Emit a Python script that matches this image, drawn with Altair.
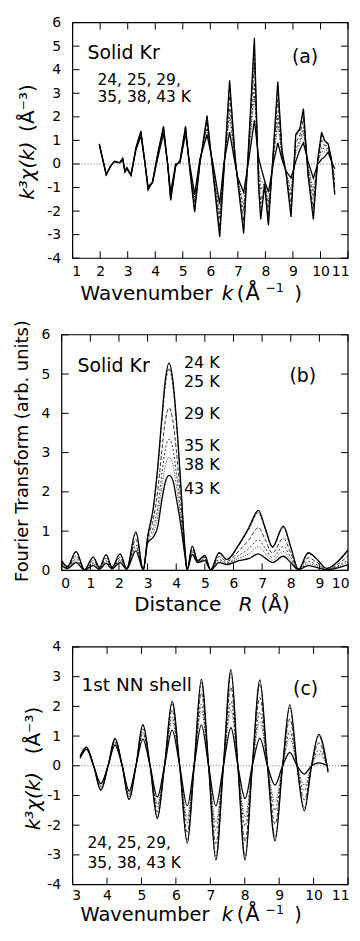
import altair as alt
import pandas as pd

FONT = "DejaVu Sans"

# ---------------- Panel (a): k^3 chi(k), raw data ----------------
ka = [1.97, 2.22, 2.4, 2.52, 2.70, 2.82, 2.9, 2.97, 3.12, 3.3, 3.48, 3.62, 3.74, 3.9, 4.1, 4.3, 4.45, 4.56,
      4.74, 4.9, 5.1, 5.25, 5.43, 5.62, 5.88, 6.1, 6.34, 6.5, 6.70, 6.9, 7.0, 7.21, 7.4, 7.6, 7.75, 7.83,
      7.97, 8.11, 8.3, 8.45, 8.6, 8.75, 8.93, 9.1, 9.25, 9.38, 9.55, 9.74, 9.9, 10.04, 10.15, 10.28, 10.4, 10.52]
a24 = [0.85, -0.45, -0.05, 0.12, 0.05, 0.25, -0.3, -0.15, -0.45, 0.7, 1.4, 0.1, -1.1, -0.75, 0.5, 1.6, 0.0, -1.55,
       -0.1, 0.15, 1.6, -0.2, -2.05, 0.0, 2.05, -0.4, -3.1, -0.2, 3.55, 0.3, -0.8, -2.95, 1.0, 5.35, -0.9, -2.35,
       -0.9, -2.6, 0.8, 3.5, 0.6, -0.4, -2.25, 1.25, 1.5, 2.35, -0.5, -2.35, 0.2, 1.35, 1.0, 0.85, 0.2, -1.3]
a25 = [0.85, -0.45, -0.05, 0.12, 0.05, 0.24, -0.3, -0.15, -0.45, 0.69, 1.39, 0.1, -1.09, -0.75, 0.49, 1.58, 0.0, -1.53,
       -0.09, 0.14, 1.58, -0.19, -2.0, 0.01, 1.99, -0.37, -3.0, -0.18, 3.4, 0.28, -0.79, -2.83, 0.94, 5.1, -0.82, -2.19,
       -0.89, -2.5, 0.75, 3.32, 0.57, -0.39, -2.13, 1.17, 1.44, 2.25, -0.46, -2.23, 0.19, 1.27, 0.95, 0.83, 0.19, -1.22]
a29 = [0.84, -0.45, -0.05, 0.11, 0.05, 0.22, -0.31, -0.16, -0.46, 0.67, 1.34, 0.1, -1.06, -0.77, 0.44, 1.51, 0.0, -1.45,
       -0.07, 0.12, 1.51, -0.14, -1.83, 0.06, 1.81, -0.28, -2.68, -0.11, 2.89, 0.21, -0.74, -2.43, 0.76, 4.3, -0.54, -1.68,
       -0.84, -2.18, 0.59, 2.72, 0.48, -0.37, -1.76, 0.9, 1.23, 1.92, -0.32, -1.83, 0.14, 1.01, 0.79, 0.75, 0.17, -0.97]
a35 = [0.82, -0.45, -0.05, 0.11, 0.05, 0.2, -0.33, -0.18, -0.48, 0.65, 1.29, 0.1, -1.02, -0.78, 0.39, 1.44, 0.0, -1.36,
       -0.05, 0.1, 1.44, -0.09, -1.64, 0.11, 1.61, -0.18, -2.33, -0.04, 2.34, 0.14, -0.69, -1.99, 0.56, 3.43, -0.24, -1.11,
       -0.79, -1.83, 0.42, 2.07, 0.38, -0.35, -1.34, 0.62, 1.0, 1.55, -0.17, -1.39, 0.09, 0.72, 0.62, 0.66, 0.15, -0.7]
a38 = [0.82, -0.45, -0.05, 0.11, 0.05, 0.18, -0.34, -0.19, -0.49, 0.63, 1.26, 0.1, -1.0, -0.79, 0.36, 1.39, 0.0, -1.31,
       -0.03, 0.08, 1.39, -0.06, -1.53, 0.14, 1.49, -0.12, -2.12, 0.01, 2.01, 0.09, -0.66, -1.73, 0.44, 2.9, -0.06, -0.78,
       -0.76, -1.62, 0.31, 1.68, 0.32, -0.33, -1.1, 0.45, 0.87, 1.34, -0.08, -1.13, 0.06, 0.55, 0.51, 0.61, 0.13, -0.53]
a43 = [0.8, -0.45, -0.05, 0.1, 0.05, 0.15, -0.35, -0.2, -0.5, 0.6, 1.2, 0.1, -0.95, -0.8, 0.3, 1.3, 0.0, -1.2,
       0.0, 0.05, 1.3, 0.0, -1.3, 0.2, 1.25, 0.0, -1.7, 0.1, 1.35, 0.0, -0.6, -1.2, 0.2, 1.85, 0.3, -0.1,
       -0.7, -1.2, 0.1, 0.9, 0.2, -0.3, -0.6, 0.1, 0.6, 0.9, 0.1, -0.6, 0.0, 0.2, 0.3, 0.5, 0.1, -0.2]

# ---------------- Panel (b): Fourier transform ----------------
rb = [0, 0.2, 0.5, 0.8, 1.1, 1.32, 1.55, 1.76, 2.04, 2.27, 2.59, 2.85, 3.0, 3.2, 3.35, 3.5, 3.62, 3.75, 3.88, 4.0,
      4.15, 4.3, 4.38, 4.56, 4.75, 5.0, 5.2, 5.5, 5.77, 6.18, 6.53, 6.87, 7.1, 7.36, 7.74, 8.0, 8.27, 8.61, 8.9,
      9.25, 9.6, 10.0]
b24 = [0.25, 0.1, 0.48, 0.02, 0.34, 0.08, 0.4, 0.08, 0.42, 0.05, 0.98, 0.02, 0.85, 1.6, 2.6, 3.9, 4.85, 5.28, 4.85, 3.9,
       2.3, 0.6, 0.02, 0.62, 0.25, 0.38, 0.02, 0.45, 0.28, 0.65, 1.08, 1.53, 1.1, 0.6, 1.13, 0.6, 0.03, 0.45, 0.3,
       0.05, 0.2, 0.52]
b25 = [0.24, 0.1, 0.47, 0.02, 0.33, 0.08, 0.39, 0.08, 0.41, 0.05, 0.96, 0.02, 0.84, 1.56, 2.53, 3.8, 4.72, 5.14, 4.72, 3.8,
       2.25, 0.59, 0.02, 0.61, 0.25, 0.37, 0.02, 0.44, 0.27, 0.63, 1.04, 1.47, 1.06, 0.58, 1.09, 0.58, 0.03, 0.43, 0.29,
       0.05, 0.19, 0.5]
b29 = [0.2, 0.08, 0.37, 0.02, 0.25, 0.06, 0.31, 0.06, 0.33, 0.04, 0.79, 0.02, 0.79, 1.3, 2.0, 3.06, 3.81, 4.14, 3.83, 3.08,
       1.86, 0.52, 0.02, 0.53, 0.23, 0.33, 0.02, 0.35, 0.23, 0.49, 0.77, 1.09, 0.79, 0.44, 0.82, 0.44, 0.03, 0.32, 0.21,
       0.03, 0.14, 0.37]
b35 = [0.16, 0.07, 0.29, 0.01, 0.19, 0.05, 0.25, 0.05, 0.27, 0.04, 0.65, 0.02, 0.75, 1.09, 1.58, 2.47, 3.08, 3.34, 3.12, 2.5,
       1.55, 0.46, 0.02, 0.47, 0.22, 0.29, 0.01, 0.28, 0.19, 0.38, 0.55, 0.78, 0.57, 0.33, 0.61, 0.33, 0.02, 0.23, 0.15,
       0.02, 0.1, 0.27]
b38 = [0.14, 0.06, 0.24, 0.01, 0.16, 0.04, 0.22, 0.05, 0.24, 0.03, 0.58, 0.02, 0.72, 0.97, 1.34, 2.14, 2.67, 2.88, 2.71, 2.18,
       1.38, 0.43, 0.02, 0.44, 0.21, 0.27, 0.01, 0.24, 0.17, 0.31, 0.42, 0.6, 0.44, 0.26, 0.48, 0.26, 0.02, 0.17, 0.12,
       0.02, 0.08, 0.21]
b43 = [0.12, 0.05, 0.2, 0.01, 0.12, 0.03, 0.18, 0.04, 0.2, 0.03, 0.5, 0.02, 0.7, 0.85, 1.1, 1.8, 2.25, 2.42, 2.3, 1.85,
       1.2, 0.4, 0.02, 0.4, 0.2, 0.25, 0.01, 0.2, 0.15, 0.25, 0.3, 0.42, 0.32, 0.2, 0.36, 0.2, 0.02, 0.12, 0.08,
       0.01, 0.06, 0.15]

# ---------------- Panel (c): 1st NN shell back-transform ----------------
kc = [3.22, 3.4, 3.61, 3.82, 4.03, 4.23, 4.44, 4.64, 4.84, 5.04, 5.25, 5.46, 5.67, 5.89, 6.11, 6.33, 6.53, 6.74,
      6.95, 7.16, 7.38, 7.6, 7.8, 8.01, 8.22, 8.44, 8.66, 8.88, 9.1, 9.31, 9.52, 9.73, 9.94, 10.15, 10.42]
c24 = [0.33, 0.63, 0, -0.83, 0, 0.92, 0, -1.14, 0, 1.39, 0, -1.78, 0, 2.17, 0, -2.61, 0, 2.91,
       0, -3.17, 0, 3.24, 0, -3.17, 0, 2.89, 0, -2.53, 0, 2.06, 0, -1.52, 0, 1.06, -0.22]
c25 = [0.33, 0.62, 0, -0.81, 0, 0.9, 0, -1.12, 0, 1.36, 0, -1.73, 0, 2.1, 0, -2.52, 0, 2.8,
       0, -3.04, 0, 3.1, 0, -3.03, 0, 2.75, 0, -2.4, 0, 1.95, 0, -1.43, 0, 0.99, -0.2]
c29 = [0.31, 0.61, 0, -0.76, 0, 0.85, 0, -1.05, 0, 1.24, 0, -1.56, 0, 1.88, 0, -2.23, 0, 2.45,
       0, -2.62, 0, 2.65, 0, -2.55, 0, 2.3, 0, -1.97, 0, 1.58, 0, -1.15, 0, 0.77, -0.15]
c35 = [0.29, 0.59, 0, -0.7, 0, 0.8, 0, -0.98, 0, 1.12, 0, -1.38, 0, 1.64, 0, -1.92, 0, 2.07,
       0, -2.17, 0, 2.16, 0, -2.03, 0, 1.81, 0, -1.5, 0, 1.17, 0, -0.84, 0, 0.53, -0.1]
c38 = [0.27, 0.57, 0, -0.67, 0, 0.77, 0, -0.94, 0, 1.05, 0, -1.27, 0, 1.49, 0, -1.73, 0, 1.84,
       0, -1.9, 0, 1.87, 0, -1.72, 0, 1.51, 0, -1.21, 0, 0.93, 0, -0.65, 0, 0.39, -0.07]
c43 = [0.25, 0.55, 0, -0.6, 0, 0.7, 0, -0.85, 0, 0.9, 0, -1.05, 0, 1.2, 0, -1.35, 0, 1.38,
       0, -1.35, 0, 1.28, 0, -1.1, 0, 0.92, 0, -0.65, 0, 0.45, 0, -0.28, 0, 0.1, 0.0]

temps = ["24 K", "25 K", "29 K", "35 K", "38 K", "43 K"]
# line styles per temperature: (dash pattern or None, width)
styles = [(None, 1.3), ([3, 1.5], 0.8), ([4, 2], 0.8), ([2, 2], 0.8), ([1, 1.5], 0.8), (None, 1.3)]

ONE = pd.DataFrame({"a": [0]})
W = 288          # every panel group is this wide; (a) and (c) frames start 11 px in
LEXT = 53        # common left extent (y-titles / labels)


def text(s, x, y, size, align="left", baseline="alphabetic", angle=0, italic=False):
    kw = dict(align=align, baseline=baseline, font=FONT, fontSize=size, color="black")
    if angle:
        kw["angle"] = angle
    if italic:
        kw["fontStyle"] = "italic"
    return alt.Chart(ONE).mark_text(**kw).encode(
        x=alt.value(x), y=alt.value(y), text=alt.value(s))


def panel(xs, series, xdom, ydom, L, H, xticks, yticks, interp, zero, texts, top_ext, bext, ypad, xpad):
    xs_ = alt.Scale(domain=xdom, nice=False, zero=False, range=[L, W])
    ys_ = alt.Scale(domain=ydom, nice=False, zero=False)
    common = dict(ticks=False, domain=False, grid=False, labelFont=FONT, labelFontSize=14,
                  labelColor="black", title=None, labelExpr="'' + datum.value", labelOverlap=False)
    xaxis = alt.Axis(values=xticks, labelPadding=xpad, labelFlush=True, labelFlushOffset=1, **common)
    yaxis = alt.Axis(values=yticks, labelPadding=ypad, **common)
    layers = []
    # invisible rule defining the panel's outer bounds for layout
    layers.append(alt.Chart(ONE).mark_rule(strokeOpacity=0, opacity=0).encode(
        x=alt.value(-LEXT), y=alt.value(-top_ext), y2=alt.value(H + bext)))
    for name, vals, (dash, sw) in zip(temps, series, styles):
        df = pd.DataFrame({"x": xs, "v": vals, "T": name})
        kw = dict(color="black", strokeWidth=sw, interpolate=interp)
        if dash:
            kw["strokeDash"] = dash
        layers.append(alt.Chart(df).mark_line(**kw).encode(
            x=alt.X("x:Q", scale=xs_, axis=xaxis),
            y=alt.Y("v:Q", scale=ys_, axis=yaxis),
            detail="T:N"))
    if zero:
        layers.append(alt.Chart(pd.DataFrame({"z": [0]})).mark_rule(
            color="#444", strokeWidth=0.8, strokeDash=[1, 2]).encode(
            y=alt.Y("z:Q", scale=ys_, axis=yaxis), x=alt.value(L), x2=alt.value(W)))
    # frame
    layers.append(alt.Chart(ONE).mark_rect(fillOpacity=0, stroke="black", strokeWidth=1.2).encode(
        x=alt.value(L), x2=alt.value(W), y=alt.value(0), y2=alt.value(H)))
    # inward ticks on all four sides
    xt = pd.DataFrame({"t": xticks})
    yt = pd.DataFrame({"t": yticks})
    tk = dict(color="black", strokeWidth=1)
    layers.append(alt.Chart(xt).mark_rule(**tk).encode(
        x=alt.X("t:Q", scale=xs_, axis=xaxis), y=alt.value(H), y2=alt.value(H - 7)))
    layers.append(alt.Chart(xt).mark_rule(**tk).encode(
        x=alt.X("t:Q", scale=xs_, axis=xaxis), y=alt.value(0), y2=alt.value(7)))
    layers.append(alt.Chart(yt).mark_rule(**tk).encode(
        y=alt.Y("t:Q", scale=ys_, axis=yaxis), x=alt.value(L), x2=alt.value(L + 7)))
    layers.append(alt.Chart(yt).mark_rule(**tk).encode(
        y=alt.Y("t:Q", scale=ys_, axis=yaxis), x=alt.value(W), x2=alt.value(W - 7)))
    layers.extend(texts)
    return alt.layer(*layers).properties(width=W, height=H)


def ktitle(L, H, base, sup, size=20):
    # "Wavenumber  k  (Å^-1)"; x positions relative to the frame's left edge
    return [
        text("Wavenumber", L + 8, H + base, size),
        text("k", L + 150, H + base, size, italic=True),
        text("(", L + 165, H + base, size),
        text("Å", L + 174, H + base, size + 1),
        text("−1", L + 194, H + sup, 12.5),
        text(")", L + 223, H + base, size),
    ]


# Panel (a)
La, Ha = 11, 237
texts_a = [
    text("Solid Kr", La + 15, 37, 19),
    text("(a)", La + 247, 41, 19, align="right"),
    text("24, 25, 29,", La + 25, 63, 15.5),
    text("35, 38, 43 K", La + 25, 80, 15.5),
    text("k³χ(k)", La - 45, 149, 20, align="center", baseline="middle", angle=270, italic=True),
    text("(Å⁻³)", La - 45, 86, 20, align="center", baseline="middle", angle=270),
] + ktitle(La, Ha, 42, 34)
pa = panel(ka, [a24, a25, a29, a35, a38, a43], [1, 11], [-4, 6], La, Ha,
           list(range(1, 12)), list(range(-4, 7)), "linear", True, texts_a, 11, 50, 1, 6)

# Panel (b)
Lb, Hb = 0, 237
texts_b = [
    text("Solid Kr", 16, 37, 19),
    text("(b)", 256, 47, 19, align="right"),
    text("24 K", 123, 33, 16),
    text("25 K", 123, 53, 16),
    text("29 K", 123, 85, 16),
    text("35 K", 123, 117, 16),
    text("38 K", 123, 136, 16),
    text("43 K", 123, 160, 16),
    text("Fourier Transform (arb. units)", -39, 117, 18, align="center", baseline="middle", angle=270),
    text("Distance", 73, Hb + 41, 20),
    text("R", 178, Hb + 41, 20, italic=True),
    text("(Å)", 200, Hb + 41, 20),
]
pb = panel(rb, [b24, b25, b29, b35, b38, b43], [0, 10], [0, 6], Lb, Hb,
           list(range(0, 11)), list(range(0, 7)), "monotone", False, texts_b, 25, 50, 12, 6)

# Panel (c)
Lc, Hc = 11, 239
texts_c = [
    text("1st NN shell", Lc + 9, 44, 18.5),
    text("(c)", Lc + 247, 48, 19, align="right"),
    text("24, 25, 29,", Lc + 15, 202, 15.5),
    text("35, 38, 43 K", Lc + 15, 222, 15.5),
    text("k³χ(k)", Lc - 39, 155, 20, align="center", baseline="middle", angle=270, italic=True),
    text("(Å⁻³)", Lc - 39, 84, 20, align="center", baseline="middle", angle=270),
] + ktitle(Lc, Hc, 37, 30, 19.5)
pc = panel(kc, [c24, c25, c29, c35, c38, c43], [3, 11], [-4, 4], Lc, Hc,
           list(range(3, 12)), list(range(-4, 5)), "monotone", True, texts_c, 25, 38, 1, 4)

chart = alt.concat(pa, pb, pc, columns=1, spacing=0, bounds="full").properties(
    padding={"left": 0, "right": 0, "top": 0, "bottom": 0},
    autosize=alt.AutoSizeParams(type="pad")).configure_view(stroke="transparent")

chart.save("out.html", embed_options={"renderer": "svg", "actions": False})
